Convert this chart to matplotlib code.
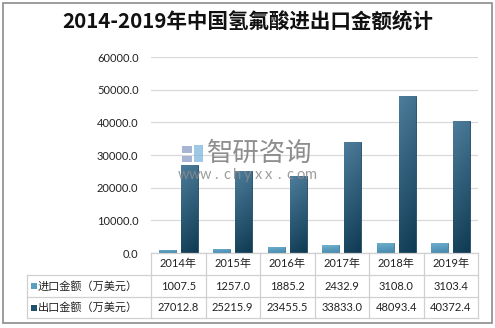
import matplotlib.pyplot as plt
import numpy as np
from matplotlib.colors import LinearSegmentedColormap
from matplotlib.patches import Rectangle

plt.rcParams['font.family'] = ['Noto Sans CJK SC', 'DejaVu Sans']
NUM_FONT = ['Lato', 'Noto Sans CJK SC']

years = ["2014年", "2015年", "2016年", "2017年", "2018年", "2019年"]
imports = [1007.5, 1257.0, 1885.2, 2432.9, 3108.0, 3103.4]
exports = [27012.8, 25215.9, 23455.5, 33833.0, 48093.4, 40372.4]
series_names = ["进口金额（万美元）", "出口金额（万美元）"]

W, H = 495, 328
fig = plt.figure(figsize=(W / 100, H / 100), dpi=100)


def fx(x):
    return x / W


def fy(y):
    return 1 - y / H


# outer frame
fig.add_artist(Rectangle((fx(3), fy(323)), fx(489), 320 / H, transform=fig.transFigure,
                         fill=False, edgecolor="#8c8c8c", linewidth=1.2))

fig.text(0.5, fy(22), "2014-2019年中国氢氟酸进出口金额统计", ha="center", va="center",
         fontsize=14.8, fontweight="bold", color="#111111")

left, right, top, bottom = 151, 478, 57, 253
ax = fig.add_axes([fx(left), fy(bottom), fx(right - left), (bottom - top) / H])
ticks = np.arange(0, 60001, 10000)
ax.set_yticks(ticks)
ax.set_yticklabels([f"{v:.1f}" for v in ticks], fontsize=8, color="#222222", family=NUM_FONT)
ax.tick_params(axis="y", length=0, pad=9)
ax.set_xticks([])
for s in ax.spines.values():
    s.set_visible(False)
ax.grid(axis="y", color="#d9d9d9", linewidth=0.9)
ax.set_axisbelow(True)

light_cmap = LinearSegmentedColormap.from_list("light", ["#72b2d2", "#4588ab"])
dark_cmap = LinearSegmentedColormap.from_list("dark", ["#4d7d9b", "#0f3a53"])

x = np.arange(len(years))
offset, width = 0.2, 0.31
bars_in = ax.bar(x - offset, imports, width, color="#5a9ec2", edgecolor="#3d7898", linewidth=0.6, zorder=2)
bars_out = ax.bar(x + offset, exports, width, color="#2b607f", edgecolor="#1d4a64", linewidth=0.6, zorder=2)

# shade each bar with a vertical gradient, slightly brighter on the left side
grad = np.linspace(0, 1, 100)[:, None] * 0.85 + np.linspace(0, 1, 20)[None, :] * 0.15
for bars, cmap in ((bars_in, light_cmap), (bars_out, dark_cmap)):
    for b in bars:
        bx, by = b.get_x(), b.get_y()
        im = ax.imshow(grad, cmap=cmap, aspect="auto", origin="upper",
                       extent=(bx, bx + b.get_width(), by, by + b.get_height()), zorder=2.5)
        im.set_clip_path(b)
ax.set_xlim(-0.5, len(years) - 0.5)
ax.set_ylim(0, 60000)

# data table under the plot
line_kw = dict(transform=fig.transFigure, color="#d0d0d0", linewidth=0.9)
col_w = (right - left) / len(years)
rows_y = [253, 275, 297, 318]
fig.add_artist(plt.Line2D([fx(left), fx(right)], [fy(253), fy(253)], **line_kw))
for yy in rows_y[1:]:
    fig.add_artist(plt.Line2D([fx(27), fx(right)], [fy(yy), fy(yy)], **line_kw))
fig.add_artist(plt.Line2D([fx(27), fx(27)], [fy(275), fy(318)], **line_kw))
for i in range(len(years) + 1):
    xx = left + i * col_w
    fig.add_artist(plt.Line2D([fx(xx), fx(xx)], [fy(253), fy(318)], **line_kw))

txt_kw = dict(ha="center", va="center", fontsize=8, color="#222222", family=NUM_FONT)
for i, yr in enumerate(years):
    cx = left + (i + 0.5) * col_w
    fig.text(fx(cx), fy(264), yr, **txt_kw)
    fig.text(fx(cx), fy(286), f"{imports[i]:.1f}", **txt_kw)
    fig.text(fx(cx), fy(307.5), f"{exports[i]:.1f}", **txt_kw)

for name, yy, c in ((series_names[0], 286, "#5a9ec2"), (series_names[1], 307.5, "#1f506e")):
    fig.add_artist(Rectangle((fx(31), fy(yy + 3)), fx(6), 6 / H, transform=fig.transFigure,
                             facecolor=c, edgecolor="none"))
    fig.text(fx(38), fy(yy), name, ha="left", va="center", fontsize=8, color="#222222")

# watermark
logo_kw = dict(transform=fig.transFigure, edgecolor="none", alpha=0.75)
fig.add_artist(Rectangle((fx(182), fy(153)), fx(10), 7 / H, facecolor="#8a9bc6", **logo_kw))
fig.add_artist(Rectangle((fx(182), fy(162)), fx(10), 6 / H, facecolor="#8a9bc6", **logo_kw))
fig.add_artist(Rectangle((fx(194), fy(162)), fx(9), 17 / H, facecolor="#7fb6e0", **logo_kw))
fig.text(fx(207), fy(153), "智研咨询", ha="left", va="center", fontsize=19, color="#7a7a7a", alpha=0.85)
site = "www.chyxx.com"
for k, ch in enumerate(site):
    fig.text(fx(184 + k * 10.6), fy(175), ch, ha="center", va="center", fontsize=10.5,
             color="#8c8c8c", alpha=0.85, family=NUM_FONT)

fig.savefig("out.png", dpi=100)
